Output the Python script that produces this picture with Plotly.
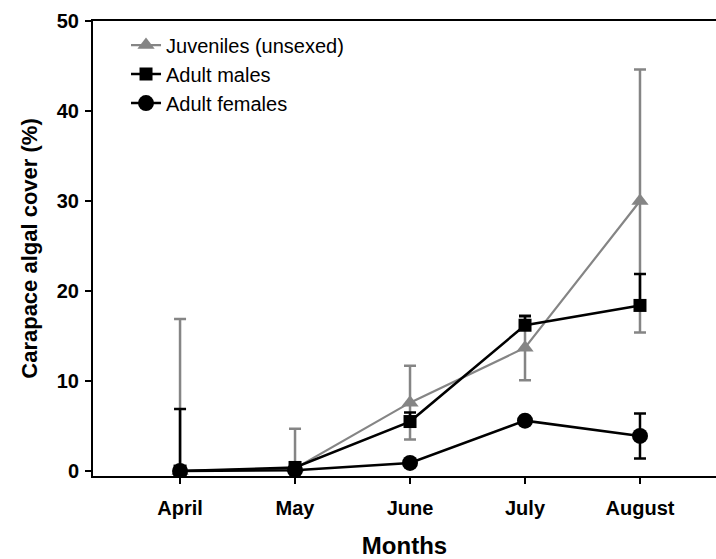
import plotly.graph_objects as go

months = ["April", "May", "June", "July", "August"]

juv_mean = [0.0, 0.3, 7.6, 13.7, 30.0]
juv_err_up = [16.9, 4.4, 4.1, 3.6, 14.6]
juv_err_down = [0.0, 0.0, 4.1, 3.6, 14.6]

male_mean = [0.0, 0.4, 5.5, 16.2, 18.4]
male_err_up = [6.9, 0.0, 1.0, 1.0, 3.5]
male_err_down = [0.0, 0.0, 0.0, 0.0, 0.0]

fem_mean = [0.0, 0.1, 0.9, 5.6, 3.9]
fem_err_up = [0.0, 0.0, 0.0, 0.0, 2.5]
fem_err_down = [0.0, 0.0, 0.0, 0.0, 2.5]

GRAY = "#858585"
FONT = "Liberation Sans, Arial, sans-serif"

xi = list(range(len(months)))

fig = go.Figure()
fig.add_trace(go.Scatter(
    x=xi, y=juv_mean, name="Juveniles (unsexed)", mode="lines+markers",
    line=dict(color=GRAY, width=2.2),
    marker=dict(symbol="triangle-up", size=15, color=GRAY, line=dict(width=0)),
    error_y=dict(type="data", symmetric=False, array=juv_err_up, arrayminus=juv_err_down,
                 color=GRAY, thickness=2.5, width=6),
))
fig.add_trace(go.Scatter(
    x=xi, y=male_mean, name="Adult males", mode="lines+markers",
    line=dict(color="black", width=2.5),
    marker=dict(symbol="square", size=13, color="black", line=dict(width=0)),
    error_y=dict(type="data", symmetric=False, array=male_err_up, arrayminus=male_err_down,
                 color="black", thickness=2.5, width=6),
))
fig.add_trace(go.Scatter(
    x=xi, y=fem_mean, name="Adult females", mode="lines+markers",
    line=dict(color="black", width=2.5),
    marker=dict(symbol="circle", size=16, color="black", line=dict(width=0)),
    error_y=dict(type="data", symmetric=False, array=fem_err_up, arrayminus=fem_err_down,
                 color="black", thickness=2.5, width=6),
))

fig.update_layout(
    width=716, height=559,
    margin=dict(l=93, r=0, t=21, b=83),
    paper_bgcolor="white", plot_bgcolor="white",
    font=dict(family=FONT, color="black"),
    showlegend=True,
    legend=dict(x=0.053, y=0.99, xanchor="left", yanchor="top",
                font=dict(size=20, family=FONT, color="black"),
                bgcolor="rgba(0,0,0,0)", borderwidth=0, tracegroupgap=0,
                itemwidth=30),
    xaxis=dict(
        range=[-0.757, 4.661], tickmode="array", tickvals=xi, ticktext=months,
        showgrid=False, zeroline=False, showline=True, linecolor="black", linewidth=2,
        mirror=True, ticks="outside", ticklen=6, tickwidth=2, tickcolor="black",
        tickfont=dict(size=20, family=FONT, weight="bold"), ticklabelstandoff=7,
        automargin=False,
        title=dict(text="<b>Months</b>", font=dict(size=24, family=FONT), standoff=28),
    ),
    yaxis=dict(
        range=[-0.55, 50], tickmode="array", tickvals=[0, 10, 20, 30, 40, 50],
        showgrid=False, zeroline=False, showline=True, linecolor="black", linewidth=2,
        ticks="outside", ticklen=6, tickwidth=2, tickcolor="black",
        tickfont=dict(size=20, family=FONT, weight="bold"), ticklabelstandoff=2,
        automargin=False,
        title=dict(text="<b>Carapace algal cover (%)</b>", font=dict(size=22, family=FONT), standoff=13),
    ),
)

fig.write_html("out.html", config={"displayModeBar": False},
               post_script="document.body.style.margin='0';")
